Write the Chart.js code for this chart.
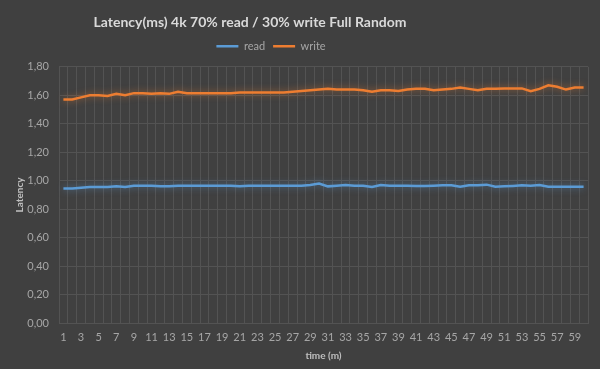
<!DOCTYPE html>
<html>
<head>
<meta charset="utf-8">
<script src="https://cdn.jsdelivr.net/npm/chart.js@4/dist/chart.umd.min.js"></script>
<style>
    html, body { margin: 0; padding: 0; background: #404040; }
    #wrap { width: 600px; height: 369px; }
</style>
</head>
<body>
<div id="wrap"><canvas id="latencyChart"></canvas></div>
<script>
// Данные графика
const minutes = [];
for (let m = 1; m <= 60; m++) minutes.push(m);

const readLatency = [
    0.945, 0.945, 0.950, 0.955, 0.955, 0.955, 0.960, 0.955, 0.965, 0.965,
    0.965, 0.960, 0.960, 0.965, 0.965, 0.965, 0.965, 0.965, 0.965, 0.965,
    0.960, 0.965, 0.965, 0.965, 0.965, 0.965, 0.965, 0.965, 0.970, 0.980,
    0.960, 0.965, 0.970, 0.965, 0.965, 0.955, 0.970, 0.965, 0.965, 0.965,
    0.963, 0.963, 0.965, 0.967, 0.967, 0.957, 0.968, 0.967, 0.972, 0.958,
    0.960, 0.963, 0.967, 0.965, 0.970, 0.957, 0.957, 0.957, 0.957, 0.957
];

const writeLatency = [
    1.570, 1.570, 1.585, 1.600, 1.600, 1.595, 1.610, 1.600, 1.615, 1.615,
    1.610, 1.615, 1.610, 1.625, 1.615, 1.615, 1.615, 1.615, 1.615, 1.615,
    1.620, 1.620, 1.620, 1.620, 1.620, 1.620, 1.625, 1.630, 1.635, 1.640,
    1.645, 1.640, 1.640, 1.640, 1.635, 1.625, 1.635, 1.635, 1.630, 1.640,
    1.645, 1.645, 1.635, 1.640, 1.645, 1.655, 1.645, 1.635, 1.645, 1.645,
    1.648, 1.648, 1.648, 1.628, 1.645, 1.670, 1.660, 1.640, 1.655, 1.655
];

const yTicks = [0, 0.2, 0.4, 0.6, 0.8, 1.0, 1.2, 1.4, 1.6, 1.8];

const fontFamily = 'Lato, "Open Sans", sans-serif';
const gridColor = '#535353';

// Свечение линий (как в Excel)
const glowPlugin = {
    id: 'glow',
    beforeDatasetDraw(chart, args) {
        const ds = chart.data.datasets[args.index];
        chart.ctx.save();
        chart.ctx.shadowColor = ds.glowColor;
        chart.ctx.shadowBlur = 7;
    },
    afterDatasetDraw(chart) {
        chart.ctx.restore();
    }
};

// Сдвиг заголовка и легенды (в оригинале они не по центру) + отступ под легендой
const shiftPlugin = {
    id: 'shift',
    beforeInit(chart) {
        const fit = chart.legend.fit;
        chart.legend.fit = function () {
            fit.call(this);
            this.height += 5;
        };
    },
    afterLayout(chart) {
        chart.titleBlock.left = 0;
        chart.titleBlock.right = 500;
        chart.legend.left = 0;
        chart.legend.right = 542;
    }
};

const ctx = document.getElementById('latencyChart').getContext('2d');
const chart = new Chart(ctx, {
    type: 'line',
    data: {
        labels: minutes,
        datasets: [{
            label: 'read',
            data: readLatency,
            borderColor: '#5b9bd5',
            backgroundColor: '#5b9bd5',
            glowColor: 'rgba(91, 155, 213, 0.6)',
            borderWidth: 2.5,
            pointRadius: 0,
            tension: 0,
            fill: false
        }, {
            label: 'write',
            data: writeLatency,
            borderColor: '#ed7d31',
            backgroundColor: '#ed7d31',
            glowColor: 'rgba(237, 125, 49, 0.6)',
            borderWidth: 2.5,
            pointRadius: 0,
            tension: 0,
            fill: false
        }]
    },
    options: {
        responsive: true,
        maintainAspectRatio: false,
        animation: false,
        layout: { padding: { left: 0, right: 12, top: 0, bottom: 0 } },
        plugins: {
            title: {
                display: true,
                text: 'Latency(ms) 4k 70% read / 30% write Full Random',
                color: '#d9d9d9',
                font: { family: fontFamily, size: 14, weight: 'bold' },
                padding: { top: 14, bottom: 2 }
            },
            legend: {
                display: true,
                labels: {
                    color: '#a6a6a6',
                    font: { family: fontFamily, size: 11 },
                    usePointStyle: true,
                    pointStyle: 'line',
                    pointStyleWidth: 22,
                    padding: 8
                }
            },
            tooltip: { enabled: false }
        },
        scales: {
            x: {
                offset: true,
                grid: { color: gridColor, offset: true, drawTicks: false },
                border: { color: gridColor },
                ticks: {
                    color: '#a6a6a6',
                    font: { family: fontFamily, size: 11 },
                    autoSkip: false,
                    maxRotation: 0,
                    padding: 8,
                    callback: (v, i) => (i % 2 === 0 ? minutes[i] : '')
                },
                title: {
                    display: true,
                    text: 'time (m)',
                    color: '#bfbfbf',
                    font: { family: fontFamily, size: 10, weight: 'bold' },
                    padding: { top: 2, bottom: 7 }
                },
                afterFit: s => { s.height = 46; }
            },
            y: {
                min: 0,
                max: 1.8,
                grid: { color: gridColor, drawTicks: false },
                border: { color: gridColor },
                afterBuildTicks: s => { s.ticks = yTicks.map(v => ({ value: v })); },
                ticks: {
                    color: '#a6a6a6',
                    font: { family: fontFamily, size: 11 },
                    padding: 10,
                    callback: v => v.toFixed(2).replace('.', ',')
                },
                title: {
                    display: true,
                    text: 'Latency',
                    color: '#bfbfbf',
                    font: { family: fontFamily, size: 10, weight: 'bold' },
                    padding: { top: 14, bottom: 2 }
                },
                afterFit: s => { s.width = 59; }
            }
        }
    },
    plugins: [glowPlugin, shiftPlugin]
});
</script>
</body>
</html>
